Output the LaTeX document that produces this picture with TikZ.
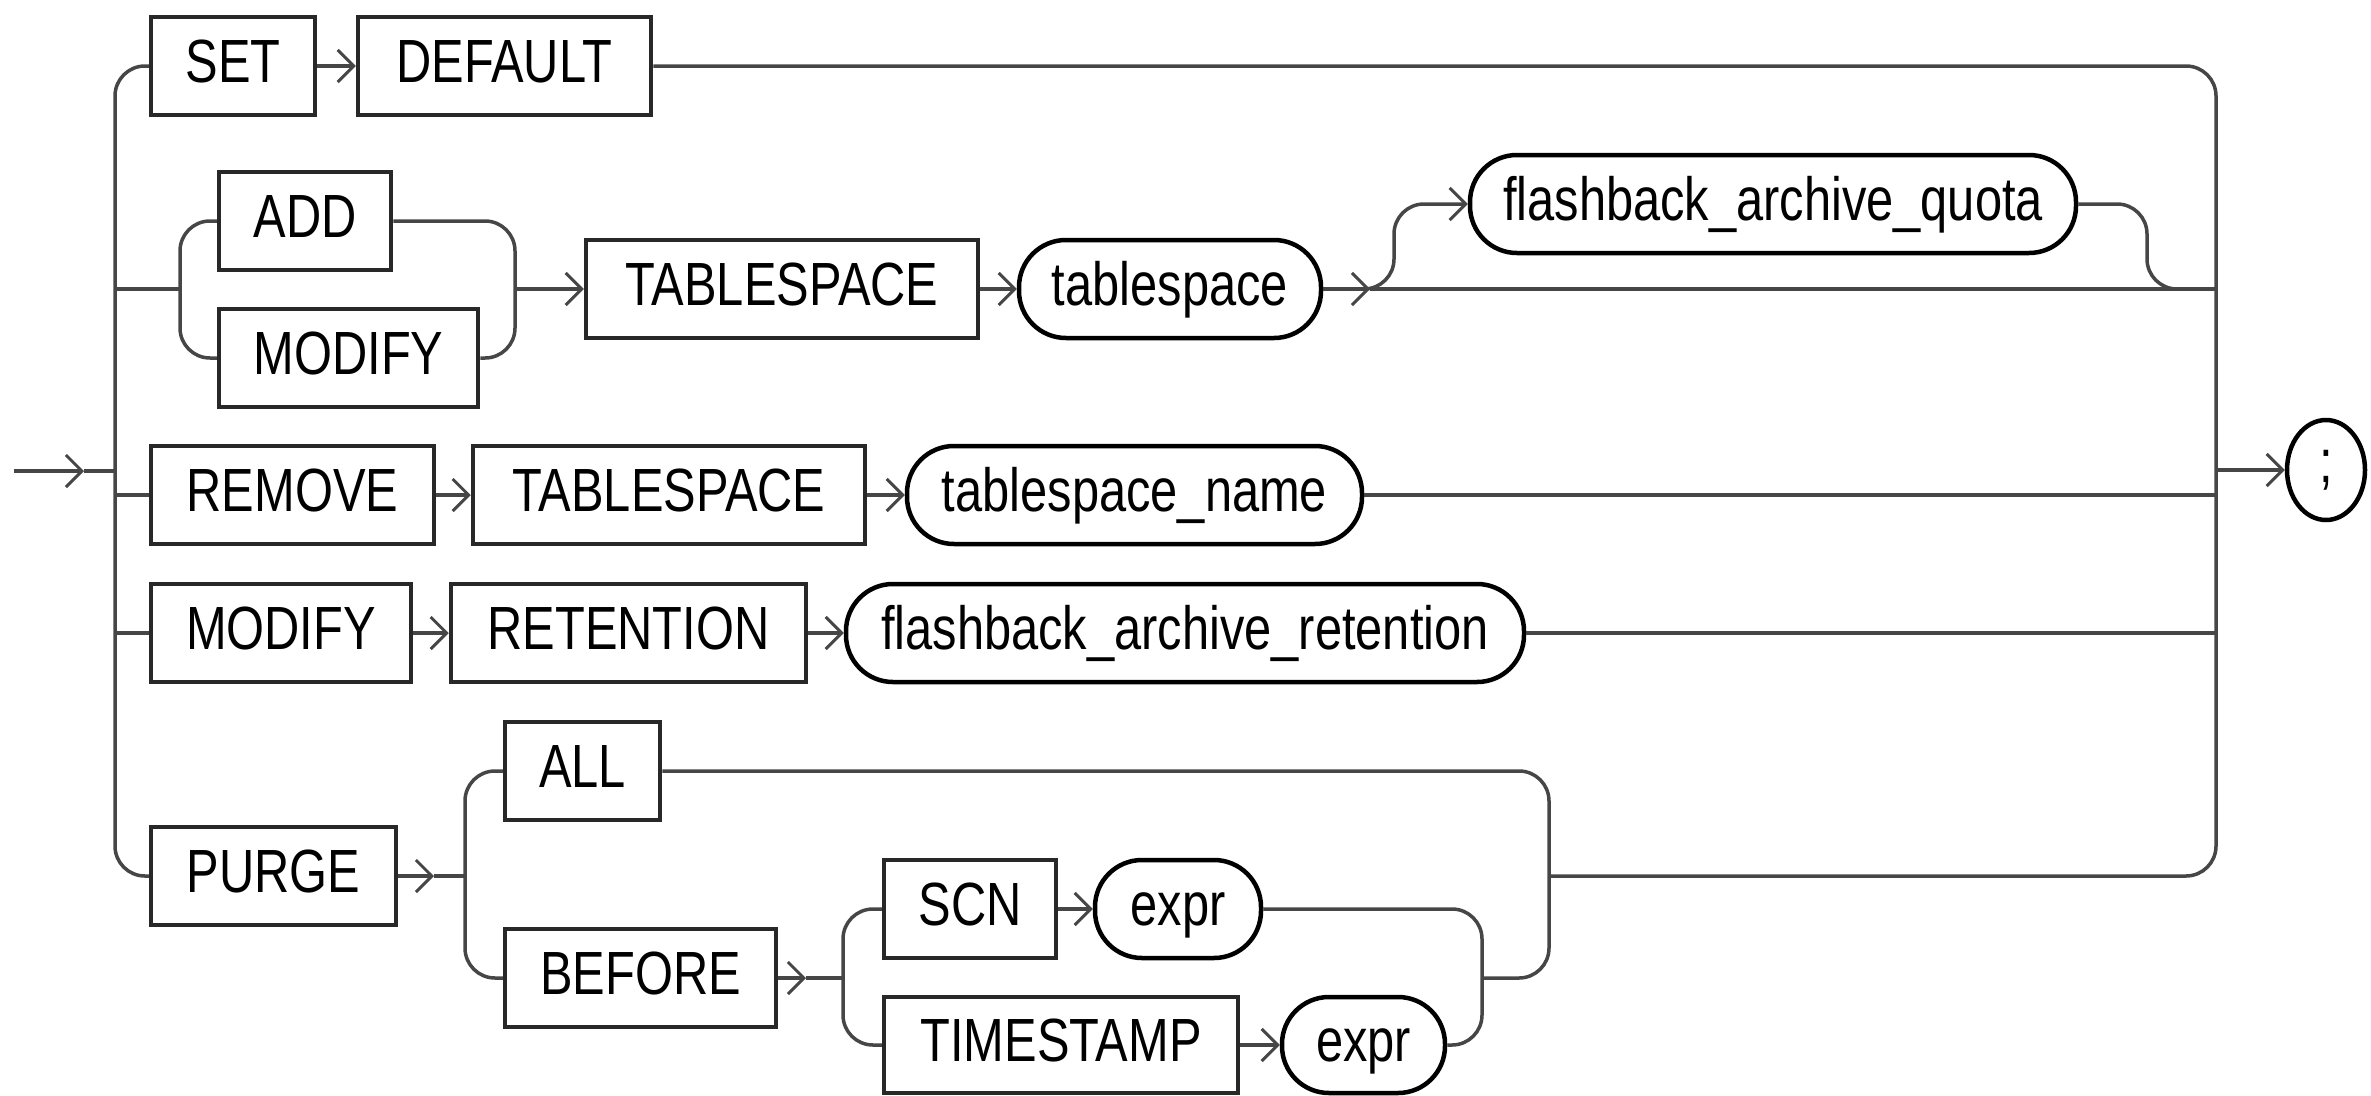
\documentclass[tikz,border=0pt]{standalone}
\usepackage{fontspec}
\setmainfont{Liberation Sans}[FakeStretch=0.8]
\usetikzlibrary{arrows.meta,shapes.geometric}
\definecolor{lc}{RGB}{70,70,70}
\definecolor{bc}{RGB}{40,40,40}
\begin{document}
\begin{tikzpicture}[x=1pt,y=-1pt,
  line/.style={draw=lc, line width=3.5pt},
  rc/.style={line, rounded corners=30pt},
  arr/.style={line, -{Straight Barb[length=16pt,width=32pt,line width=3pt]}},
  kw/.style={draw=bc, line width=4.5pt, rectangle, minimum height=98pt, inner sep=0pt,
     text height=44pt, text depth=12pt, font=\fontsize{61}{61}\selectfont},
  nt/.style={kw, draw=black, rounded corners=47pt},
]
\useasboundingbox (0,0) rectangle (2371,1095);
% nodes
\node[kw, minimum width=164pt] (set) at (233,66) {SET};
\node[kw, minimum width=293pt] (default) at (504.5,66) {DEFAULT};
\node[kw, minimum width=172pt] (add) at (305,221) {ADD};
\node[kw, minimum width=259pt] (moda) at (348.5,358) {MODIFY};
\node[kw, minimum width=392pt] (tsa) at (782,289) {TABLESPACE};
\node[nt, minimum width=302pt] (tsp) at (1170,289) {tablespace};
\node[nt, minimum width=606pt] (fbaq) at (1773,204) {flashback\_archive\_quota};
\node[kw, minimum width=283pt] (remove) at (292.5,495) {REMOVE};
\node[kw, minimum width=392pt] (tsb) at (669,495) {TABLESPACE};
\node[nt, minimum width=455pt] (tsn) at (1134.5,495) {tablespace\_name};
\node[kw, minimum width=260pt] (modb) at (281,633) {MODIFY};
\node[kw, minimum width=355pt] (ret) at (628.5,633) {RETENTION};
\node[nt, minimum width=678pt] (fbar) at (1185,633) {flashback\_archive\_retention};
\node[kw, minimum width=155pt] (all) at (582.5,771) {ALL};
\node[kw, minimum width=245pt] (purge) at (273.5,876) {PURGE};
\node[kw, minimum width=271pt] (before) at (640.5,978) {BEFORE};
\node[kw, minimum width=172pt] (scn) at (970,909) {SCN};
\node[nt, minimum width=166pt] (e1) at (1178,909) {expr};
\node[kw, minimum width=354pt, minimum height=96pt] (ts2) at (1061,1045) {TIMESTAMP};
\node[nt, minimum width=163pt, minimum height=96pt] (e2) at (1363.5,1045) {expr};
\node[draw=black, line width=4.5pt, ellipse, minimum width=78pt, minimum height=100pt, inner sep=0pt,
      font=\fontsize{61}{61}\selectfont] (semi) at (2326,470) {;};
% coordinates
\coordinate (in0) at (14,471); \coordinate (inTip) at (84,471); \coordinate (lbIn) at (115,471);
\coordinate (lbT) at (115,66); \coordinate (lbB) at (115,876);
\coordinate (rbT) at (2216,66); \coordinate (rbB) at (2216,876);
\coordinate (lb2) at (115,289); \coordinate (sAM) at (180,289);
\coordinate (sAMt) at (180,221); \coordinate (sAMb) at (180,358);
\coordinate (jAMt) at (515,221); \coordinate (jAMb) at (515,358); \coordinate (jAM) at (515,289);
\coordinate (tsTip) at (1370,289); \coordinate (qS) at (1364,289);
\coordinate (qB) at (1394,289); \coordinate (qT) at (1394,204);
\coordinate (qJ1) at (2147,204); \coordinate (qJ2) at (2147,289); \coordinate (qJ3) at (2177,289);
\coordinate (rb2) at (2216,289);
\coordinate (lb3) at (115,495); \coordinate (rb3) at (2216,495);
\coordinate (lb4) at (115,633); \coordinate (rb4) at (2216,633);
\coordinate (rbOut) at (2216,470);
\coordinate (pTip) at (434,876); \coordinate (pS) at (465,876);
\coordinate (pSt) at (465,771); \coordinate (pSb) at (465,978);
\coordinate (aJt) at (1549,771); \coordinate (aJb) at (1549,978); \coordinate (aJm) at (1549,876);
\coordinate (bJ) at (1482,978);
\coordinate (bTip) at (806,978); \coordinate (bS) at (843,978);
\coordinate (bSt) at (843,909); \coordinate (bSb) at (843,1045);
\coordinate (eJt) at (1482,909); \coordinate (eJb) at (1482,1045);
% connectors
\draw[arr] (in0) -- (inTip);
\draw[line] (inTip) -- (lbIn);
\draw[rc] (set.west) -- (lbT) -- (lbB) -- (purge.west);
\draw[arr] (set) -- (default);
\draw[rc] (default.east) -- (rbT) -- (rbB) -- (aJm);
\draw[line] (lb2) -- (sAM);
\draw[rc] (add.west) -- (sAMt) -- (sAMb) -- (moda.west);
\draw[rc] (add.east) -- (jAMt) -- (jAMb) -- (moda.east);
\draw[arr] (jAM) -- (tsa);
\draw[arr] (tsa) -- (tsp);
\draw[arr] (tsp) -- (tsTip);
\draw[line] (tsTip) -- (rb2);
\draw[rc, arr] (qS) -- (qB) -- (qT) -- (fbaq.west);
\draw[rc] (fbaq.east) -- (qJ1) -- (qJ2) -- (qJ3);
\draw[line] (lb3) -- (remove);
\draw[arr] (remove) -- (tsb);
\draw[arr] (tsb) -- (tsn);
\draw[line] (tsn) -- (rb3);
\draw[line] (lb4) -- (modb);
\draw[arr] (modb) -- (ret);
\draw[arr] (ret) -- (fbar);
\draw[line] (fbar) -- (rb4);
\draw[arr] (rbOut) -- (semi);
\draw[arr] (purge) -- (pTip);
\draw[line] (pTip) -- (pS);
\draw[rc] (all.west) -- (pSt) -- (pSb) -- (before.west);
\draw[rc] (all.east) -- (aJt) -- (aJb) -- (bJ);
\draw[arr] (before) -- (bTip);
\draw[line] (bTip) -- (bS);
\draw[rc] (scn.west) -- (bSt) -- (bSb) -- (ts2.west);
\draw[arr] (scn) -- (e1);
\draw[arr] (ts2) -- (e2);
\draw[rc] (e1.east) -- (eJt) -- (eJb) -- (e2.east);
\end{tikzpicture}
\end{document}
